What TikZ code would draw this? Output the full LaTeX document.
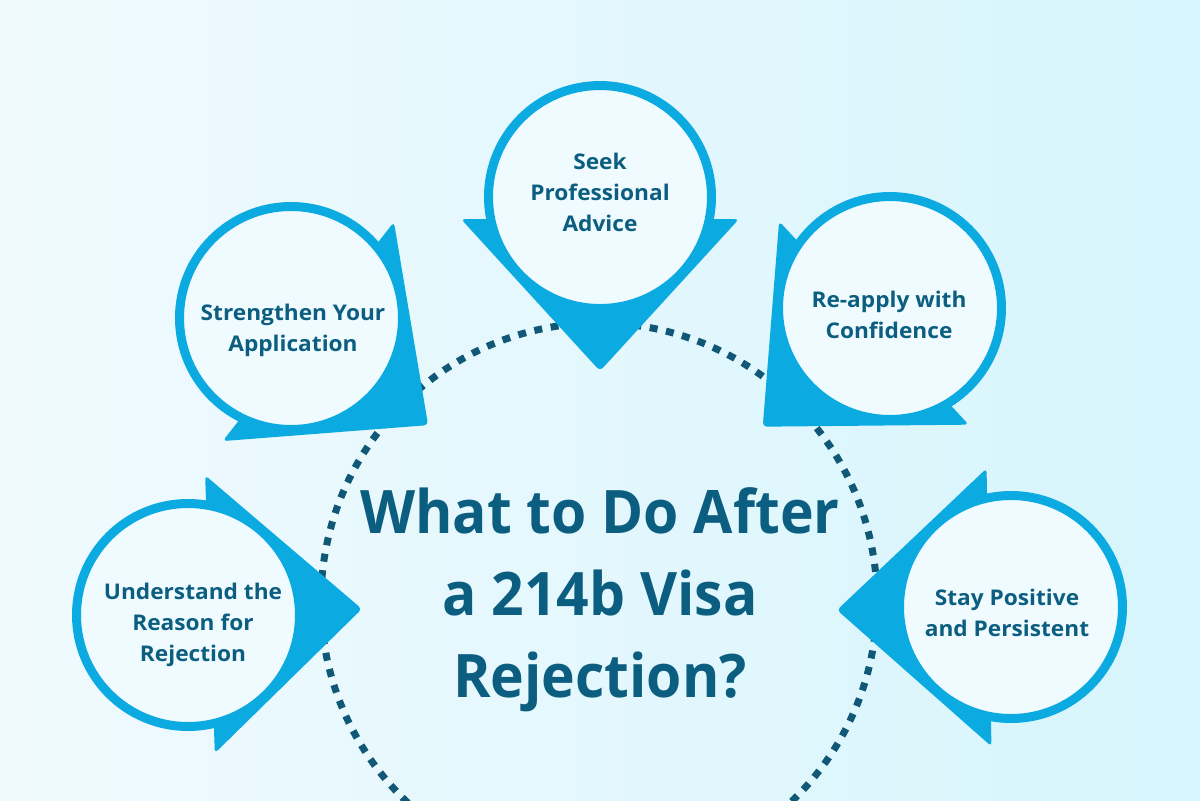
\documentclass[tikz,border=0pt]{standalone}
\usepackage{fontspec}
\setmainfont{Open Sans}
\newfontfamily\titlefont[FakeStretch=0.95]{Open Sans}
\newfontfamily\pinfont[FakeStretch=1.05]{Open Sans}
\definecolor{pinblue}{RGB}{11,170,224}
\definecolor{pinfill}{RGB}{239,251,255}
\definecolor{txt}{RGB}{12,94,128}
\definecolor{dashc}{RGB}{16,88,118}
\definecolor{bgl}{RGB}{240,250,254}
\definecolor{bgr}{RGB}{214,245,252}
% #1 name, #2 cx, #3 cy, #4 angle, #5 text offset (dx,dy), #6 text
\newcommand\drawpin[6]{%
  \begin{scope}[shift={(#2,#3)}, rotate=#4]
    \fill[pinblue, rounded corners=2pt] (174,0) -- (22,139) -- (22,-139) -- cycle;
  \end{scope}
  \node[pincircle] (#1) at (#2,#3) {};
  \node[pintext] (#1-text) at ($(#1.center)+#5$) {#6};
}
\usetikzlibrary{calc}
\begin{document}
\begin{tikzpicture}[x=0.5pt,y=-0.5pt,
  pincircle/.style={circle, draw=pinblue, line width=4.5pt, fill=pinfill,
    minimum size=111.5pt, inner sep=0pt},
  pintext/.style={align=center, text=txt, inner sep=0pt,
    font=\pinfont\fontsize{10.8}{15.5}\selectfont\bfseries},
  title/.style={align=center, text=txt,
    font=\titlefont\fontsize{30}{41}\selectfont\bfseries},
  ring/.style={draw=dashc, line width=3.5pt, dash pattern=on 4pt off 4.3pt}]
\useasboundingbox (0,0) rectangle (1200,800);
\shade[left color=bgl, right color=bgr] (0,0) rectangle (1200,800);
\draw[ring] (599,601) circle[radius=278];
\drawpin{understand}{188}{615}{2}{(5,10)}{Understand the\\Reason for\\Rejection}
\drawpin{strengthen}{291}{318}{-38}{(2,12)}{Strengthen Your\\Application}
\drawpin{seek}{600}{197}{-90}{(0,-5)}{Seek\\Professional\\Advice}
\drawpin{reapply}{890}{308}{-137}{(-1,7)}{Re-apply with\\Confidence}
\drawpin{stay}{1011}{607}{-179}{(-4,6)}{Stay Positive\\and Persistent}
\node[title] (title) at (600,600) {What to Do After\\a 214b Visa\\Rejection?};
\end{tikzpicture}
\end{document}
